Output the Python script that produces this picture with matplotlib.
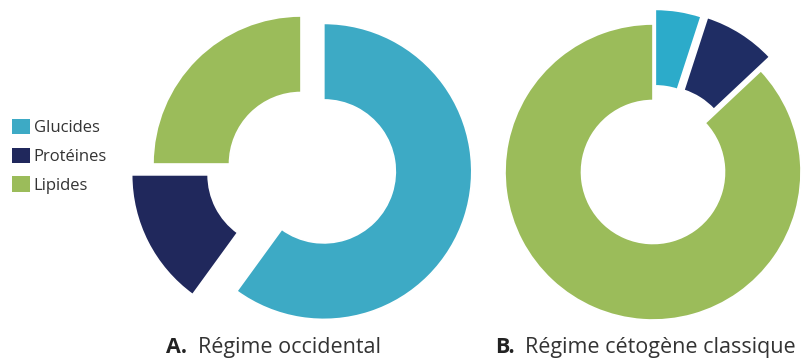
import matplotlib
matplotlib.use("Agg")
import matplotlib.pyplot as plt
from matplotlib.patches import Patch

# --- data ---
categories = ["Glucides", "Protéines", "Lipides"]
occidental = [60, 15, 25]      # % énergie, régime occidental
cetogene = [5, 8, 87]          # % énergie, régime cétogène classique
colors_a = ["#3daac5", "#20285c", "#9bbc5a"]
colors_b = ["#2cabca", "#1f2d64", "#9bbc5a"]

plt.rcParams["font.family"] = ["Open Sans", "DejaVu Sans"]

W, H = 801, 360
fig = plt.figure(figsize=(W / 100, H / 100), dpi=100)

R = 148.0   # outer radius in px
HALF = 1.2  # axis half-extent in radius units


def donut_axes(cx, cy):
    """Square axes centred on (cx, cy) in pixels (y up), radius 1 = R px."""
    s = HALF * R
    ax = fig.add_axes([(cx - s) / W, (cy - s) / H, 2 * s / W, 2 * s / H])
    ax.axis("off")
    return ax


wp = dict(width=0.517, edgecolor="white", linewidth=1.2)

axA = donut_axes(301, 360 - 164)
axA.pie(occidental, colors=colors_a, startangle=90, counterclock=False,
        explode=[0.162, 0.162, 0.0], wedgeprops=wp, radius=1.0)
axA.set_xlim(-HALF, HALF)
axA.set_ylim(-HALF, HALF)

axB = donut_axes(653, 360 - 172)
axB.pie(cetogene, colors=colors_b, startangle=90, counterclock=False,
        explode=[0.10, 0.11, 0.0], wedgeprops=wp, radius=1.0)
axB.set_xlim(-HALF, HALF)
axB.set_ylim(-HALF, HALF)

# legend (square swatches)
handles = [Patch(facecolor=c, edgecolor="none") for c in colors_a]
fig.legend(handles, categories, loc="upper left", bbox_to_anchor=(12 / W, 1 - 119 / H),
           frameon=False, fontsize=12, handlelength=1.05, handleheight=1.05,
           handletextpad=0.25, labelspacing=0.68, borderpad=0, borderaxespad=0,
           labelcolor="#333333")

# titles
ty = 1 - 353 / H
fig.text(166 / W, ty, "A.", fontsize=15.5, fontweight="bold", color="#222222", va="baseline")
fig.text(198 / W, ty, "Régime occidental", fontsize=15.5, color="#333333", va="baseline")
fig.text(495 / W, ty, "B.", fontsize=15.5, fontweight="bold", color="#222222", va="baseline")
fig.text(525 / W, ty, "Régime cétogène classique", fontsize=15.5, color="#333333", va="baseline")

fig.savefig("out.png", dpi=100)
